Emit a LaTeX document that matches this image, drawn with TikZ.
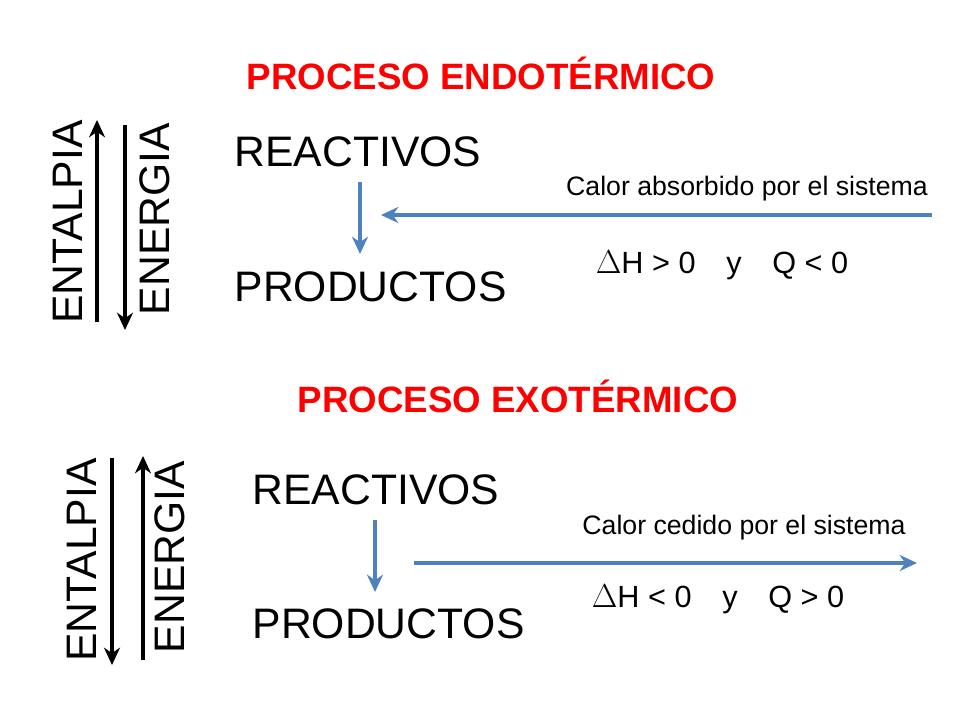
\documentclass[tikz,border=0pt]{standalone}
\usepackage{fontspec}
\setmainfont{Liberation Sans}
\usetikzlibrary{arrows.meta}
\definecolor{flecha}{HTML}{4F81BD}
\definecolor{titulo}{HTML}{FF0000}
\tikzset{
  titulo/.style={text=titulo,font=\fontsize{27.5}{30}\selectfont\bfseries},
  especie/.style={anchor=west,font=\fontsize{32}{36}\selectfont},
  eje/.style={rotate=90,font=\fontsize{32}{36}\selectfont},
  calor/.style={font=\fontsize{20}{24}\selectfont},
  signo/.style={font=\fontsize{23}{27}\selectfont},
  negra/.style={line width=3pt,-{Stealth[length=13pt,width=12pt]}},
  azul/.style={flecha,line width=3pt,-{Stealth[length=13pt,width=12pt]}}
}
\begin{document}
\begin{tikzpicture}[x=0.75pt,y=-0.75pt]
\useasboundingbox (0,0) rectangle (960,720);
% endotermico
\node[titulo] (t1) at (481,73) {PROCESO ENDOTÉRMICO};
\node[eje] (ent1) at (68,222) {ENTALPIA};
\node[eje] (ene1) at (155,219) {ENERGIA};
\coordinate (e1a) at (97,322); \coordinate (e1b) at (97,120);
\coordinate (g1a) at (125,125); \coordinate (g1b) at (125,330);
\draw[negra] (e1a) -- (e1b);
\draw[negra] (g1a) -- (g1b);
\node[especie] (r1) at (230,152) {REACTIVOS};
\node[especie] (p1) at (230,287) {PRODUCTOS};
\coordinate (d1a) at (360,182); \coordinate (d1b) at (360,254);
\draw[azul] (d1a) -- (d1b);
\coordinate (h1a) at (932,215); \coordinate (h1b) at (381,215);
\draw[azul] (h1a) -- (h1b);
\node[calor] (c1) at (747,189) {Calor absorbido por el sistema};
\node[signo] (s1) at (722,265) {$\Delta$H > 0\quad y\quad Q < 0};
% exotermico
\node[titulo] (t2) at (518,396) {PROCESO EXOTÉRMICO};
\node[eje] (ent2) at (82,560) {ENTALPIA};
\node[eje] (ene2) at (170,557) {ENERGIA};
\coordinate (e2a) at (112,458); \coordinate (e2b) at (112,665);
\coordinate (g2a) at (143,660); \coordinate (g2b) at (143,456);
\draw[negra] (e2a) -- (e2b);
\draw[negra] (g2a) -- (g2b);
\node[especie] (r2) at (248,490) {REACTIVOS};
\node[especie] (p2) at (248,624) {PRODUCTOS};
\coordinate (d2a) at (375,520); \coordinate (d2b) at (375,592);
\draw[azul] (d2a) -- (d2b);
\coordinate (h2a) at (414,563); \coordinate (h2b) at (917,563);
\draw[azul] (h2a) -- (h2b);
\node[calor] (c2) at (744,528) {Calor cedido por el sistema};
\node[signo] (s2) at (718,599) {$\Delta$H < 0\quad y\quad Q > 0};
\end{tikzpicture}
\end{document}
